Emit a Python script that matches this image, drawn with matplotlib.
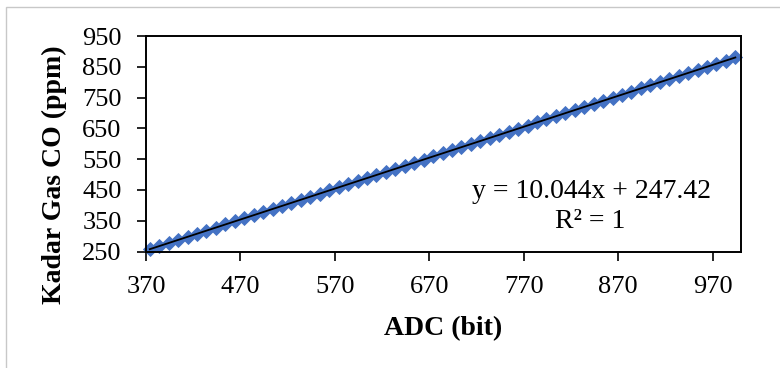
import numpy as np
import matplotlib
matplotlib.use("Agg")
import matplotlib.pyplot as plt
from matplotlib.patches import Rectangle

adc = [374, 384, 394, 404, 414, 424, 434, 444, 454, 464,
       474, 484, 494, 504, 514, 524, 534, 544, 554, 564,
       574, 584, 594, 604, 614, 624, 634, 644, 654, 664,
       674, 684, 694, 704, 714, 724, 734, 744, 754, 764,
       774, 784, 794, 804, 814, 824, 834, 844, 854, 864,
       874, 884, 894, 904, 914, 924, 934, 944, 954, 964,
       974, 984, 994]
ppm = [257.46, 267.51, 277.55, 287.60, 297.64, 307.68, 317.73, 327.77, 337.82, 347.86,
       357.90, 367.95, 377.99, 388.04, 398.08, 408.12, 418.17, 428.21, 438.26, 448.30,
       458.34, 468.39, 478.43, 488.48, 498.52, 508.56, 518.61, 528.65, 538.70, 548.74,
       558.78, 568.83, 578.87, 588.92, 598.96, 609.00, 619.05, 629.09, 639.14, 649.18,
       659.22, 669.27, 679.31, 689.36, 699.40, 709.44, 719.49, 729.53, 739.58, 749.62,
       759.66, 769.71, 779.75, 789.80, 799.84, 809.88, 819.93, 829.97, 840.02, 850.06,
       860.10, 870.15, 880.19]
x_ticks = [370, 470, 570, 670, 770, 870, 970]
y_ticks = [250, 350, 450, 550, 650, 750, 850, 950]
equation_text = "y = 10.044x + 247.42"
r2_text = "R² = 1"
x_label = "ADC (bit)"
y_label = "Kadar Gas CO (ppm)"

plt.rcParams['font.family'] = ['Liberation Serif', 'DejaVu Serif']

fig = plt.figure(figsize=(7.8, 3.68), dpi=100)
fig.patches.append(Rectangle((6/780, -0.01), 1, 1 - 7/368 + 0.01, transform=fig.transFigure,
                             fill=False, edgecolor='#c8c8c8', linewidth=1.0))
ax = fig.add_axes([146/780, 1 - 251.5/368, (741 - 146)/780, (251.5 - 36)/368])

ax.plot(adc, ppm, linestyle='none', marker='D', markersize=6.8,
        markerfacecolor='#4472C4', markeredgecolor='#4472C4', markeredgewidth=0.6,
        zorder=2, clip_on=False)
coef = np.polyfit(adc, ppm, 1)
xs = np.array([adc[0], adc[-1]])
ax.plot(xs, np.polyval(coef, xs), color='black', linewidth=1.3, zorder=3)

ax.set_xlim(370, 1000)
ax.set_ylim(250, 950)
ax.set_xticks(x_ticks)
ax.set_yticks(y_ticks)
ax.tick_params(axis='both', direction='out', length=6.5, width=1.2, labelsize=19,
               colors='black')
ax.tick_params(axis='x', pad=11)
ax.tick_params(axis='y', pad=11)
for s in ax.spines.values():
    s.set_linewidth(1.4)
    s.set_color('black')

ax.set_xlabel(x_label, fontsize=20, fontweight='bold')
ax.set_ylabel(y_label, fontsize=20, fontweight='bold')
ax.xaxis.set_label_coords(0.499, -0.3)
ax.yaxis.set_label_coords(-0.133, 0.355)

fig.text(591/780, 1 - 198/368, equation_text, fontsize=20, ha='center', va='baseline')
fig.text(590/780, 1 - 228/368, r2_text, fontsize=20, ha='center', va='baseline')

fig.savefig("out.png", dpi=100)
